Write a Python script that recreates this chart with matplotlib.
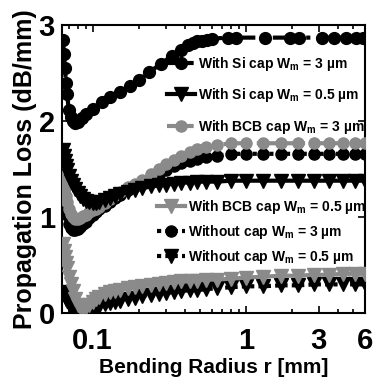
import matplotlib
matplotlib.use("Agg")
import matplotlib.pyplot as plt
from matplotlib import font_manager
from matplotlib.ticker import LogLocator, NullFormatter, FixedLocator, FixedFormatter

plt.rcParams['mathtext.fontset'] = 'custom'
plt.rcParams['mathtext.rm'] = 'Liberation Sans:bold'
plt.rcParams['mathtext.default'] = 'rm'

# bending radius (mm)
r = [0.064, 0.065, 0.066, 0.067, 0.068, 0.07, 0.072, 0.074, 0.077, 0.08,
     0.083, 0.087, 0.09, 0.095, 0.1, 0.105, 0.11, 0.12, 0.13, 0.14,
     0.15, 0.17, 0.19, 0.21, 0.24, 0.27, 0.3, 0.34, 0.38, 0.43,
     0.48, 0.55, 0.65, 0.8, 1.0, 1.3, 1.7, 2.2, 2.8, 3.5, 4.3, 5.2, 6.0]

# the Si cap 3 um curve has its own, sparser radii
r_si3 = [0.064, 0.065, 0.066, 0.067, 0.068, 0.07, 0.072, 0.074, 0.077, 0.08,
         0.085, 0.09, 0.1, 0.115, 0.13, 0.15, 0.175, 0.2, 0.235, 0.28,
         0.33, 0.38, 0.42, 0.45, 0.48, 0.52, 0.56, 0.6, 0.77, 0.86,
         1.33, 1.95, 2.23, 3.14, 3.75, 4.54, 5.28, 5.8]

si_3 = [2.85, 2.70, 2.55, 2.40, 2.28, 2.12, 2.04, 2.00, 1.98, 1.99,
        2.03, 2.07, 2.13, 2.20, 2.25, 2.30, 2.37, 2.43, 2.51, 2.60,
        2.68, 2.74, 2.79, 2.81, 2.83, 2.84, 2.85, 2.86, 2.87, 2.87,
        2.87, 2.87, 2.87, 2.87, 2.87, 2.87, 2.87, 2.87]

si_05 = [1.70, 1.64, 1.58, 1.53, 1.49, 1.43, 1.38, 1.34, 1.29, 1.25,
         1.22, 1.19, 1.17, 1.16, 1.15, 1.15, 1.16, 1.18, 1.20, 1.22,
         1.24, 1.26, 1.28, 1.30, 1.32, 1.33, 1.34, 1.35, 1.36, 1.36,
         1.37, 1.37, 1.37, 1.38, 1.38, 1.38, 1.38, 1.38, 1.38, 1.38, 1.38, 1.38, 1.38]

bcb_3 = [1.50, 1.40, 1.30, 1.22, 1.16, 1.08, 1.03, 1.00, 0.98, 0.98,
         0.99, 1.01, 1.02, 1.05, 1.07, 1.09, 1.11, 1.15, 1.19, 1.23,
         1.26, 1.31, 1.35, 1.39, 1.45, 1.50, 1.55, 1.60, 1.64, 1.68,
         1.71, 1.73, 1.75, 1.77, 1.77, 1.77, 1.77, 1.77, 1.77, 1.77, 1.77, 1.77, 1.77]

bcb_05 = [0.72, 0.65, 0.58, 0.52, 0.47, 0.38, 0.30, 0.23, 0.15, 0.09,
          0.06, 0.05, 0.06, 0.09, 0.12, 0.15, 0.17, 0.20, 0.22, 0.23,
          0.24, 0.26, 0.27, 0.28, 0.29, 0.30, 0.31, 0.32, 0.33, 0.33,
          0.34, 0.35, 0.35, 0.36, 0.37, 0.38, 0.39, 0.39, 0.40, 0.40, 0.41, 0.41, 0.41]

no_3 = [1.45, 1.32, 1.20, 1.10, 1.02, 0.93, 0.89, 0.87, 0.87, 0.88,
        0.90, 0.93, 0.95, 0.99, 1.02, 1.05, 1.08, 1.12, 1.16, 1.20,
        1.23, 1.28, 1.32, 1.36, 1.41, 1.45, 1.49, 1.53, 1.56, 1.59,
        1.61, 1.63, 1.64, 1.66, 1.66, 1.66, 1.66, 1.66, 1.66, 1.66, 1.66, 1.66, 1.66]

no_05 = [0.22, 0.20, 0.18, 0.15, 0.13, 0.10, 0.07, 0.05, 0.03, 0.02,
         0.02, 0.03, 0.04, 0.05, 0.06, 0.07, 0.08, 0.10, 0.11, 0.12,
         0.13, 0.15, 0.16, 0.18, 0.19, 0.20, 0.21, 0.22, 0.23, 0.24,
         0.24, 0.25, 0.26, 0.27, 0.28, 0.28, 0.29, 0.29, 0.30, 0.30, 0.30, 0.30, 0.30]

labels = [r'With Si cap W$_{m}$ = 3 µm', r'With Si cap W$_{m}$ = 0.5 µm',
          r'With BCB cap W$_{m}$ = 3 µm', r'With BCB cap W$_{m}$ = 0.5 µm',
          r'Without cap W$_{m}$ = 3 µm', r'Without cap W$_{m}$ = 0.5 µm']

# narrow font if there is one, else shrink the regular one
names = {f.name for f in font_manager.fontManager.ttflist}
if 'Liberation Sans Narrow' in names:
    narrow, tick_size, xl_size = 'Liberation Sans Narrow', 24, 17
else:
    narrow, tick_size, xl_size = 'Liberation Sans', 21, 15

gray = '#8a8a8a'
lw = 3

fig = plt.figure(figsize=(3.75, 3.81), dpi=100)
ax = fig.add_axes([0.165, 0.178, 0.808, 0.756])

l5, = ax.plot(r, no_3, color='black', ls=(0, (1, 1)), lw=lw, marker='o', ms=8, zorder=2)
l6, = ax.plot(r, no_05, color='black', ls=(0, (1, 1)), lw=lw, marker='v', ms=10, zorder=2)
l3, = ax.plot(r, bcb_3, color=gray, ls='-.', lw=lw, marker='o', ms=8, zorder=3)
l4, = ax.plot(r, bcb_05, color=gray, ls='-', lw=lw, marker='v', ms=10, zorder=3)
l1, = ax.plot(r_si3, si_3, color='black', ls='-.', lw=lw, marker='o', ms=8.5, zorder=4)
l2, = ax.plot(r, si_05, color='black', ls='-', lw=lw, marker='v', ms=10, zorder=4)

ax.set_xscale('log')
ax.set_xlim(0.063, 6)
ax.set_ylim(0, 3)

ax.xaxis.set_major_locator(FixedLocator([0.1, 1, 3, 6]))
ax.xaxis.set_major_formatter(FixedFormatter(['0.1', '1', '3', '6']))
ax.xaxis.set_minor_locator(LogLocator(base=10, subs=range(2, 10)))
ax.xaxis.set_minor_formatter(NullFormatter())
ax.set_yticks([0, 1, 2, 3])

ax.tick_params(which='both', direction='in', top=True, right=True, width=1.2)
ax.tick_params(which='major', length=5)
ax.tick_params(axis='x', which='major', pad=10)
ax.tick_params(axis='y', which='major', pad=5)
ax.tick_params(which='minor', length=3)
for s in ax.spines.values():
    s.set_linewidth(1.5)

for t in ax.get_xticklabels() + ax.get_yticklabels():
    t.set_fontfamily(narrow)
    t.set_fontweight('bold')
    t.set_fontsize(tick_size)

ax.set_xlabel('Bending Radius r [mm]', family=narrow, weight='bold', size=xl_size, labelpad=2)
ax.set_ylabel('Propagation Loss (dB/mm)', family='Liberation Sans', weight='bold',
              size=18, labelpad=1)

leg_font = dict(family='Liberation Sans', weight='bold', size=10)
leg1 = ax.legend([l1, l2, l3], labels[:3], loc='upper left', bbox_to_anchor=(0.325, 0.92),
                 frameon=False, prop=leg_font, handlelength=2.0, handletextpad=0.2,
                 labelspacing=0.95, borderpad=0)
ax.add_artist(leg1)
ax.legend([l4, l5, l6], labels[3:], loc='upper left', bbox_to_anchor=(0.292, 0.425),
          frameon=False, prop=leg_font, handlelength=2.0, handletextpad=0.2,
          labelspacing=0.5, borderpad=0)

fig.savefig('out.png', dpi=100)
